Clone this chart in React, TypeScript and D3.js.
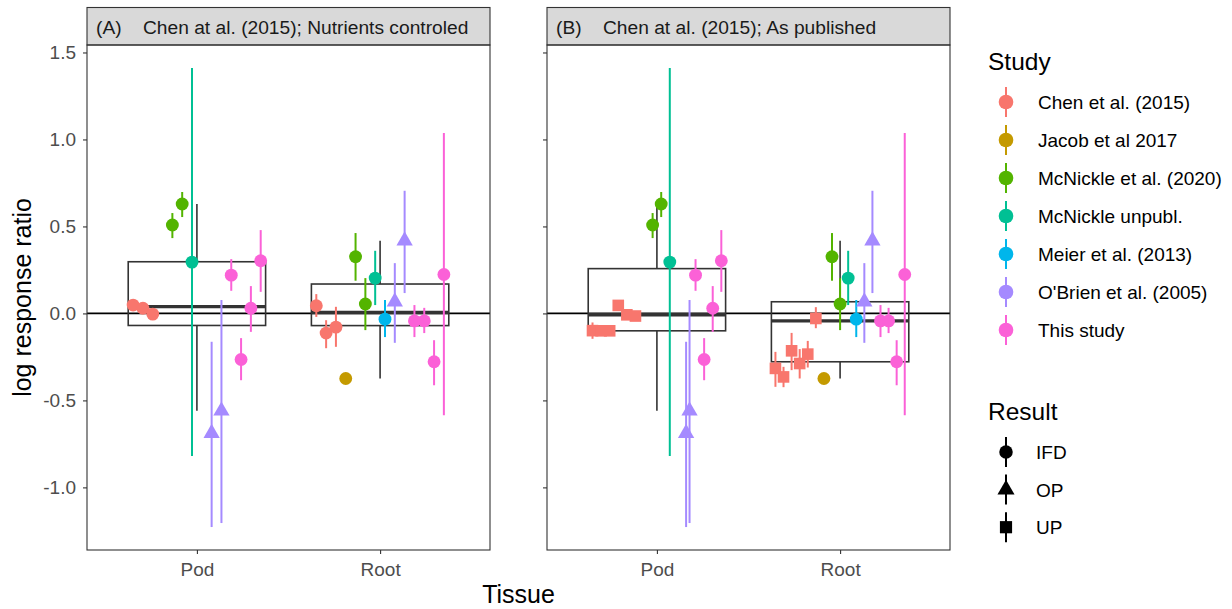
import React, { useEffect, useRef } from 'react';
import * as d3 from 'd3';

const studies = [
  'Chen et al. (2015)',
  'Jacob et al 2017',
  'McNickle et al. (2020)',
  'McNickle unpubl.',
  'Meier et al. (2013)',
  "O'Brien et al. (2005)",
  'This study'
];
const studyColors = ['#F8766D', '#C49A00', '#53B400', '#00C094', '#00B6EB', '#A58AFF', '#FB61D7'];
const results = ['IFD', 'OP', 'UP'];
const tissues = ['Pod', 'Root'];
const stripTags = ['(A)', '(B)'];
const stripTitles = ['Chen at al. (2015); Nutrients controled', 'Chen at al. (2015); As published'];
const yTicks = [-1, -0.5, 0, 0.5, 1, 1.5];

// number of dodge slots for [Pod, Root] in each facet
const slotsA = [14, 14];
const slotsB = [16, 17];

// rows: [study, result, dodge slot, log response ratio, lower, upper]
type Row = [number, string, number, number, number, number];

const podA: Row[] = [
  [0, 'IFD', 0, 0.048, 0.033, 0.063],
  [0, 'IFD', 1, 0.03, 0.016, 0.044],
  [0, 'IFD', 2, -0.004, -0.018, 0.01],
  [2, 'IFD', 4, 0.508, 0.433, 0.577],
  [2, 'IFD', 5, 0.629, 0.554, 0.698],
  [3, 'IFD', 6, 0.295, -0.82, 1.411],
  [5, 'OP', 8, -0.689, -1.228, -0.163],
  [5, 'OP', 9, -0.56, -1.205, 0.077],
  [6, 'IFD', 10, 0.22, 0.13, 0.312],
  [6, 'IFD', 11, -0.265, -0.384, -0.142],
  [6, 'IFD', 12, 0.03, -0.106, 0.157],
  [6, 'IFD', 13, 0.303, 0.124, 0.479]
];

const rootA: Row[] = [
  [0, 'IFD', 0, 0.044, -0.02, 0.111],
  [0, 'IFD', 1, -0.113, -0.2, -0.039],
  [0, 'IFD', 2, -0.079, -0.192, 0.038],
  [1, 'IFD', 3, -0.374, -0.374, -0.374],
  [2, 'IFD', 4, 0.326, 0.188, 0.462],
  [2, 'IFD', 5, 0.054, -0.096, 0.203],
  [3, 'IFD', 6, 0.203, 0.048, 0.36],
  [4, 'IFD', 7, -0.033, -0.136, 0.077],
  [5, 'OP', 8, 0.067, -0.169, 0.289],
  [5, 'OP', 9, 0.418, 0.117, 0.705],
  [6, 'IFD', 10, -0.043, -0.136, 0.048],
  [6, 'IFD', 11, -0.043, -0.113, 0.032],
  [6, 'IFD', 12, -0.278, -0.413, -0.154],
  [6, 'IFD', 13, 0.224, -0.585, 1.037]
];

const podB: Row[] = [
  [0, 'UP', 0, -0.099, -0.146, -0.052],
  [0, 'UP', 1, -0.1, -0.12, -0.08],
  [0, 'UP', 2, -0.1, -0.115, -0.085],
  [0, 'UP', 3, 0.046, 0.03, 0.062],
  [0, 'UP', 4, -0.008, -0.025, 0.01],
  [0, 'UP', 5, -0.015, -0.03, 0.0],
  [2, 'IFD', 7, 0.508, 0.433, 0.577],
  [2, 'IFD', 8, 0.629, 0.554, 0.698],
  [3, 'IFD', 9, 0.295, -0.82, 1.411],
  [5, 'OP', 10.9, -0.689, -1.228, -0.163],
  [5, 'OP', 11.3, -0.56, -1.205, 0.077],
  [6, 'IFD', 12, 0.22, 0.13, 0.312],
  [6, 'IFD', 13, -0.265, -0.384, -0.142],
  [6, 'IFD', 14, 0.03, -0.106, 0.157],
  [6, 'IFD', 15, 0.303, 0.124, 0.479]
];

const rootB: Row[] = [
  [0, 'UP', 0, -0.316, -0.422, -0.221],
  [0, 'UP', 1, -0.365, -0.424, -0.307],
  [0, 'UP', 2, -0.215, -0.326, -0.112],
  [0, 'UP', 3, -0.288, -0.374, -0.205],
  [0, 'UP', 4, -0.234, -0.311, -0.158],
  [0, 'UP', 5, -0.029, -0.085, 0.036],
  [1, 'IFD', 6, -0.374, -0.374, -0.374],
  [2, 'IFD', 7, 0.326, 0.188, 0.462],
  [2, 'IFD', 8, 0.054, -0.096, 0.203],
  [3, 'IFD', 9, 0.203, 0.048, 0.36],
  [4, 'IFD', 10, -0.033, -0.136, 0.077],
  [5, 'OP', 11, 0.067, -0.169, 0.289],
  [5, 'OP', 12, 0.418, 0.117, 0.705],
  [6, 'IFD', 13, -0.043, -0.136, 0.048],
  [6, 'IFD', 14, -0.043, -0.113, 0.032],
  [6, 'IFD', 15, -0.278, -0.413, -0.154],
  [6, 'IFD', 16, 0.224, -0.585, 1.037]
];

const FONT = "'Liberation Sans', Arial, Helvetica, sans-serif";

function shapePath(result: string, scale = 1) {
  const type = result === 'OP' ? d3.symbolTriangle : result === 'UP' ? d3.symbolSquare : d3.symbolCircle;
  const size = result === 'OP' ? 115 : result === 'UP' ? 135 : 130;
  return d3.symbol().type(type).size(size * scale)()!;
}

export default function App() {
  const ref = useRef<SVGSVGElement>(null);

  useEffect(() => {
    const svg = d3.select(ref.current);
    svg.selectAll('*').remove();

    const width = 1232, height = 609;
    const panelLeft = [87, 547];
    const panelW = 403;
    const top = 45, bottom = 550, stripTop = 7.5;

    const facets = [
      { rows: [podA, rootA], slots: slotsA },
      { rows: [podB, rootB], slots: slotsB }
    ];

    // y range from all the error bars plus ggplot's 5% expansion
    const all = [podA, rootA, podB, rootB].flat();
    const lo = d3.min(all, d => d[4])!, hi = d3.max(all, d => d[5])!;
    const pad = (hi - lo) * 0.05;
    const y = d3.scaleLinear().domain([lo - pad, hi + pad]).range([bottom, top]);

    svg.append('rect').attr('width', width).attr('height', height).attr('fill', '#fff');

    facets.forEach((f, fi) => {
      const x0 = panelLeft[fi];
      const x = d3.scalePoint().domain(tissues).range([x0, x0 + panelW]).padding(0.6);
      const step = x.step();
      const dodge = 0.75 * step;
      const g = svg.append('g');

      // strip
      g.append('rect')
        .attr('x', x0).attr('y', stripTop).attr('width', panelW).attr('height', top - stripTop)
        .attr('fill', '#D9D9D9').attr('stroke', '#333').attr('stroke-width', 1.1);
      const st = g.append('text')
        .attr('x', x0 + 9).attr('y', 34)
        .attr('font-family', FONT).attr('font-size', 19.2).attr('fill', '#1A1A1A');
      st.append('tspan').text(stripTags[fi]);
      st.append('tspan').attr('x', x0 + 56).text(stripTitles[fi]);

      // zero line
      g.append('line')
        .attr('x1', x0).attr('x2', x0 + panelW).attr('y1', y(0)).attr('y2', y(0))
        .attr('stroke', '#000').attr('stroke-width', 1.6);

      f.rows.forEach((rows, ti) => {
        const cx = x(tissues[ti])!;
        const n = f.slots[ti];
        const px = (slot: number) => cx + ((slot + 0.5) / n - 0.5) * dodge;

        // boxplot from the plotted values
        const vals = rows.map(r => r[3]).sort(d3.ascending);
        const q1 = d3.quantile(vals, 0.25)!, med = d3.quantile(vals, 0.5)!, q3 = d3.quantile(vals, 0.75)!;
        const iqr = q3 - q1;
        const wLo = d3.min(vals.filter(v => v >= q1 - 1.5 * iqr))!;
        const wHi = d3.max(vals.filter(v => v <= q3 + 1.5 * iqr))!;
        const bx = g.append('g').attr('stroke', '#333').attr('fill', 'none');
        bx.append('line').attr('x1', cx).attr('x2', cx).attr('y1', y(q3)).attr('y2', y(wHi)).attr('stroke-width', 1.6);
        bx.append('line').attr('x1', cx).attr('x2', cx).attr('y1', y(q1)).attr('y2', y(wLo)).attr('stroke-width', 1.6);
        bx.append('rect')
          .attr('x', cx - dodge / 2).attr('y', y(q3)).attr('width', dodge).attr('height', y(q1) - y(q3))
          .attr('stroke-width', 1.6);
        bx.append('line').attr('x1', cx - dodge / 2).attr('x2', cx + dodge / 2)
          .attr('y1', y(med)).attr('y2', y(med)).attr('stroke-width', 3.4);

        // error bars, then points
        g.append('g').selectAll('line')
          .data(rows.filter(r => r[5] > r[4]))
          .enter().append('line')
          .attr('x1', d => px(d[2])).attr('x2', d => px(d[2]))
          .attr('y1', d => y(d[4])).attr('y2', d => y(d[5]))
          .attr('stroke', d => studyColors[d[0]]).attr('stroke-width', 2);
        g.append('g').selectAll('path')
          .data(rows)
          .enter().append('path')
          .attr('d', d => shapePath(d[1]))
          .attr('transform', d => `translate(${px(d[2])},${y(d[3])})`)
          .attr('fill', d => studyColors[d[0]]);
      });

      // panel border
      g.append('rect')
        .attr('x', x0).attr('y', top).attr('width', panelW).attr('height', bottom - top)
        .attr('fill', 'none').attr('stroke', '#333').attr('stroke-width', 1.1);

      // axes
      const ya = g.append('g').attr('transform', `translate(${x0},0)`)
        .call(d3.axisLeft(y).tickValues(yTicks).tickSize(4).tickPadding(7)
          .tickFormat(d => (fi === 0 ? (+d).toFixed(1) : '')));
      const xa = g.append('g').attr('transform', `translate(0,${bottom})`)
        .call(d3.axisBottom(x).tickSize(4).tickPadding(9));
      [ya, xa].forEach(a => {
        a.select('.domain').remove();
        a.selectAll('line').attr('stroke', '#333').attr('stroke-width', 1.1);
        a.selectAll('text').attr('font-family', FONT).attr('font-size', 19).attr('fill', '#4D4D4D');
      });
    });

    // axis titles
    svg.append('text')
      .attr('x', (panelLeft[0] + panelLeft[1] + panelW) / 2).attr('y', 603)
      .attr('text-anchor', 'middle').attr('font-family', FONT).attr('font-size', 25)
      .text('Tissue');
    svg.append('text')
      .attr('transform', `translate(31,${(top + bottom) / 2}) rotate(-90)`)
      .attr('text-anchor', 'middle').attr('font-family', FONT).attr('font-size', 25)
      .text('log response ratio');

    // legends
    const lg = svg.append('g').attr('font-family', FONT);
    const keyX = 1006, labX = 1038;
    lg.append('text').attr('x', 988).attr('y', 70).attr('font-size', 24.5).text('Study');
    studies.forEach((s, i) => {
      const cy = 102 + i * 38;
      lg.append('line').attr('x1', keyX).attr('x2', keyX).attr('y1', cy - 15).attr('y2', cy + 15)
        .attr('stroke', studyColors[i]).attr('stroke-width', 2);
      lg.append('path').attr('d', shapePath('IFD', 1.3)).attr('transform', `translate(${keyX},${cy})`)
        .attr('fill', studyColors[i]);
      lg.append('text').attr('x', labX).attr('y', cy + 7).attr('font-size', 19).text(s);
    });
    lg.append('text').attr('x', 988).attr('y', 420).attr('font-size', 24.5).text('Result');
    results.forEach((r, i) => {
      const cy = 452 + i * 37.6;
      lg.append('line').attr('x1', keyX).attr('x2', keyX).attr('y1', cy - 15).attr('y2', cy + 15)
        .attr('stroke', '#000').attr('stroke-width', 2);
      lg.append('path').attr('d', shapePath(r, 1.1)).attr('transform', `translate(${keyX},${cy})`)
        .attr('fill', '#000');
      lg.append('text').attr('x', labX - 2).attr('y', cy + 7).attr('font-size', 19).text(r);
    });
  }, []);

  return (
    <svg
      ref={ref}
      width={1232}
      height={609}
      style={{ position: 'absolute', left: 0, top: 0 }}
    />
  );
}
